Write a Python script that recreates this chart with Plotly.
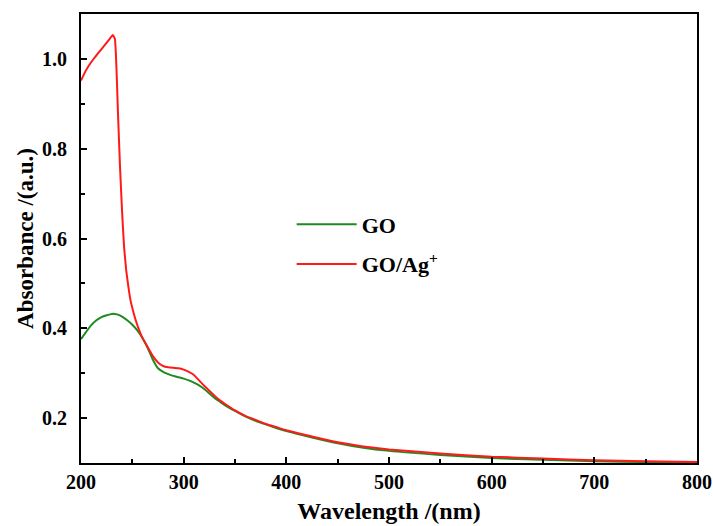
import plotly.graph_objects as go

# Wavelength (nm) and absorbance values
go_wl = [200, 205, 210, 215, 220, 225, 230, 235, 240, 245, 250, 255, 260, 265, 270,
         275, 280, 285, 290, 295, 300, 305, 310, 315, 320, 325, 330, 335, 340, 350,
         360, 370, 380, 390, 400, 425, 450, 475, 500, 550, 600, 650, 700, 750, 800]
go_abs = [0.376, 0.392, 0.407, 0.418, 0.425, 0.429, 0.432, 0.431, 0.426, 0.418, 0.408,
          0.395, 0.378, 0.356, 0.330, 0.311, 0.303, 0.298, 0.294, 0.291, 0.288, 0.284,
          0.279, 0.273, 0.265, 0.255, 0.245, 0.237, 0.229, 0.216, 0.204, 0.194, 0.186,
          0.178, 0.171, 0.157, 0.144, 0.134, 0.127, 0.118, 0.111, 0.107, 0.104, 0.102,
          0.100]

goag_wl = [200, 205, 210, 215, 220, 225, 229, 231, 233, 234, 235, 236, 238, 240, 242,
           244, 246, 248, 250, 253, 256, 260, 265, 270, 275, 280, 285, 290, 295, 300,
           305, 310, 315, 320, 325, 330, 335, 340, 350, 360, 370, 380, 390, 400, 425,
           450, 475, 500, 550, 600, 650, 700, 750, 800]
goag_abs = [0.952, 0.975, 0.993, 1.008, 1.022, 1.036, 1.048, 1.053, 1.045, 1.010, 0.950,
            0.880, 0.760, 0.660, 0.580, 0.530, 0.495, 0.465, 0.445, 0.420, 0.400, 0.378,
            0.358, 0.338, 0.324, 0.316, 0.313, 0.312, 0.311, 0.308, 0.303, 0.296, 0.284,
            0.272, 0.261, 0.250, 0.240, 0.232, 0.217, 0.205, 0.196, 0.187, 0.180, 0.173,
            0.159, 0.146, 0.137, 0.130, 0.121, 0.114, 0.110, 0.106, 0.104, 0.102]

x_ticks = [200, 300, 400, 500, 600, 700, 800]
y_ticks = [0.2, 0.4, 0.6, 0.8, 1.0]

FONT = "Liberation Serif, Times New Roman, serif"

fig = go.Figure()
fig.add_trace(go.Scatter(x=go_wl, y=go_abs, mode="lines", name="<b>GO</b>",
                         legendgroup="a",
                         line=dict(color="#1f8a1f", width=2, shape="spline", smoothing=0.6)))
fig.add_trace(go.Scatter(x=goag_wl, y=goag_abs, mode="lines", name="<b>GO/Ag<sup>+</sup></b>",
                         legendgroup="b",
                         line=dict(color="#ff1a1a", width=2, shape="spline", smoothing=0.3)))

axis_common = dict(showline=True, linecolor="black", linewidth=2, mirror=True,
                   ticks="inside", tickcolor="black", tickwidth=2, ticklen=6,
                   showgrid=False, zeroline=False, automargin=False,
                   tickfont=dict(family=FONT, size=20, color="black", weight="bold"))

fig.update_xaxes(range=[200, 800], tickvals=x_ticks, ticktext=[str(v) for v in x_ticks],
                 minor=dict(ticks="inside", dtick=50, ticklen=4, tickwidth=2, tickcolor="black"),
                 ticklabelstandoff=0,
                 title=dict(text="<b>Wavelength /(nm)</b>", font=dict(family=FONT, size=24, color="black"),
                            standoff=10),
                 **axis_common)
fig.update_yaxes(range=[0.1, 1.1], tickvals=y_ticks, ticktext=[f"{v:.1f}" for v in y_ticks],
                 minor=dict(ticks="inside", tickvals=[0.1, 0.3, 0.5, 0.7, 0.9, 1.1], ticklen=4,
                            tickwidth=2, tickcolor="black"),
                 ticklabelstandoff=8,
                 title=dict(text="<b>Absorbance /(a.u.)</b>", font=dict(family=FONT, size=23, color="black"),
                            standoff=2),
                 **axis_common)

fig.update_layout(
    width=713, height=526,
    margin=dict(l=81, r=16, t=14, b=63),
    paper_bgcolor="white", plot_bgcolor="white",
    showlegend=True,
    legend=dict(x=0.342, y=0.578, xanchor="left", yanchor="top",
                bgcolor="rgba(0,0,0,0)", borderwidth=0,
                font=dict(family=FONT, size=22, color="black"),
                itemwidth=60, tracegroupgap=8),
)

fig.write_html("out.html", config={"displayModeBar": False},
               post_script="document.body.style.margin='0';document.body.style.overflow='hidden';")
